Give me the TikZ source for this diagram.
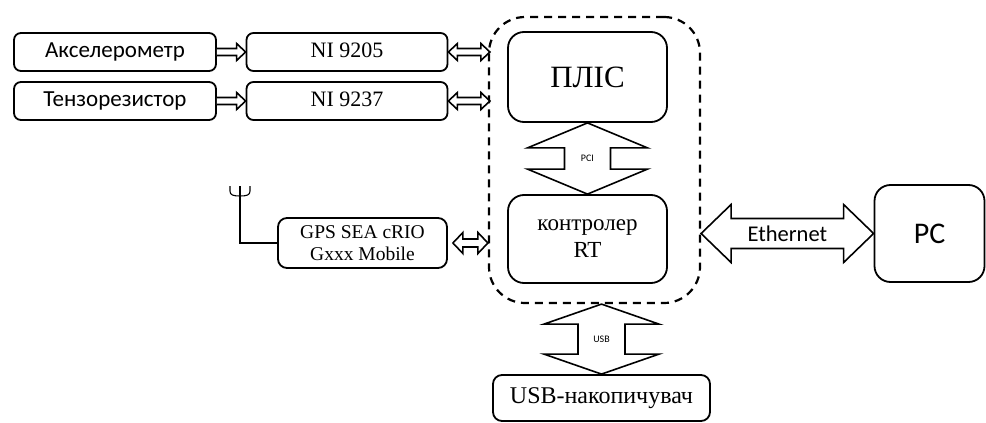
\documentclass[tikz,border=0pt]{standalone}
\usepackage{fontspec}
\setmainfont{Liberation Serif}
\newfontfamily\calib{Carlito}
\usetikzlibrary{calc}

% hollow two-headed arrow, horizontal: left tip, right tip, head length, head half-width, shaft half-width
\newcommand\hboth[5]{%
  \draw[hollow] (#1) -- ($(#1)+(#3,-#4)$) -- ($(#1)+(#3,-#5)$) -- ($(#2)+(-#3,-#5)$)
    -- ($(#2)+(-#3,-#4)$) -- (#2) -- ($(#2)+(-#3,#4)$) -- ($(#2)+(-#3,#5)$)
    -- ($(#1)+(#3,#5)$) -- ($(#1)+(#3,#4)$) -- cycle;}
% hollow two-headed arrow, vertical: top tip, bottom tip, head length, head half-width, shaft half-width
\newcommand\vboth[5]{%
  \draw[hollow] (#1) -- ($(#1)+(-#4,#3)$) -- ($(#1)+(-#5,#3)$) -- ($(#2)+(-#5,-#3)$)
    -- ($(#2)+(-#4,-#3)$) -- (#2) -- ($(#2)+(#4,-#3)$) -- ($(#2)+(#5,-#3)$)
    -- ($(#1)+(#5,#3)$) -- ($(#1)+(#4,#3)$) -- cycle;}
% hollow one-headed arrow, horizontal: tail, tip, head length, head half-width, shaft half-width
\newcommand\hone[5]{%
  \draw[hollow] ($(#1)+(0,-#5)$) -- ($(#2)+(-#3,-#5)$) -- ($(#2)+(-#3,-#4)$) -- (#2)
    -- ($(#2)+(-#3,#4)$) -- ($(#2)+(-#3,#5)$) -- ($(#1)+(0,#5)$);}

\tikzset{
  box/.style={draw, line width=1.8pt, rounded corners=7pt, inner sep=0pt, align=center},
  bigbox/.style={box, rounded corners=16pt},
  oneline/.style={text height=15pt, text depth=4pt},
  sans/.style={font=\calib\fontsize{23}{26}\selectfont, oneline},
  serif/.style={font=\fontsize{22}{24}\selectfont, oneline},
  hollow/.style={draw, fill=white, line width=1.6pt, line join=miter},
}

\begin{document}
\begin{tikzpicture}[x=1pt, y=-1pt]
\useasboundingbox (0,0) rectangle (986,423);

% sensors and input modules
\node[box, sans, minimum width=202pt, minimum height=38pt] (acc)  at (115,52)  {Акселерометр};
\node[box, sans, minimum width=202pt, minimum height=38pt] (tenz) at (115,101) {Тензорезистор};
\node[box, serif, minimum width=201pt, minimum height=38pt] (ni1) at (347,52)  {NI 9205};
\node[box, serif, minimum width=201pt, minimum height=38pt] (ni2) at (347,101) {NI 9237};

% cRIO chassis
\node[draw, dashed, dash pattern=on 8pt off 6pt, line width=2.2pt, rounded corners=36pt,
      minimum width=211pt, minimum height=286pt, inner sep=0pt] (frame) at (594.5,160) {};
\node[bigbox, font=\fontsize{31}{34}\selectfont, minimum width=159pt, minimum height=90pt] (fpga) at (587.5,77) {ПЛІС};
\node[bigbox, font=\fontsize{23}{27}\selectfont, minimum width=159pt, minimum height=88pt] (rt) at (587.5,239) {контролер\\RT};

% GPS module with antenna
\node[box, font=\fontsize{19.5}{22}\selectfont, rounded corners=9pt, minimum width=169pt, minimum height=50pt] (gps) at (362.5,243) {GPS SEA cRIO\\Gxxx Mobile};
\coordinate (ant) at (240,186);
\draw[line width=1.1pt] (gps.west) -| (ant);
\draw[line width=1.1pt] (230,186) -- (230,191) .. controls (230,195) and (233,196) .. (240,196)
  .. controls (247,196) and (250,195) .. (250,191) -- (250,186);

% host PC and USB storage
\node[bigbox, font=\calib\fontsize{30}{32}\selectfont, minimum width=110pt, minimum height=97pt] (pc) at (929.5,233.5) {PC};
\node[box, font=\fontsize{24}{26}\selectfont, text height=16pt, text depth=4.5pt, rounded corners=9pt, minimum width=217pt, minimum height=46pt] (usb) at (601.5,398) {USB-накопичувач};

% links
\hone{acc.east}{ni1.west}{9}{8.5}{3.5}
\hone{tenz.east}{ni2.west}{9}{8.5}{3.5}
\coordinate (f1) at ($(ni1.east -| frame.west)+(2,0)$);
\coordinate (f2) at ($(ni2.east -| frame.west)+(2,0)$);
\hboth{ni1.east}{f1}{9}{8.5}{3.5}
\hboth{ni2.east}{f2}{9}{8.5}{3.5}
\coordinate (g1) at ($(gps.east)+(5,0)$);
\coordinate (g2) at (gps.east -| frame.west);
\hboth{g1}{g2}{10}{10.5}{4}

\vboth{fpga.south}{rt.north}{25}{60}{23}
\node[font=\calib\fontsize{10}{12}\selectfont] (pcil) at ($(fpga.south)!0.5!(rt.north)$) {PCI};

\coordinate (u1) at (usb.north |- frame.south);
\vboth{u1}{usb.north}{20}{57.5}{23.5}
\node[font=\calib\fontsize{10}{12}\selectfont] (usbl) at ($(u1)!0.5!(usb.north)$) {USB};

\coordinate (e1) at (pc.west -| frame.east);
\hboth{e1}{pc.west}{30}{29}{15}
\node[font=\calib\fontsize{22.5}{25}\selectfont] (ethl) at ($(e1)!0.5!(pc.west)$) {Ethernet};
\end{tikzpicture}
\end{document}
